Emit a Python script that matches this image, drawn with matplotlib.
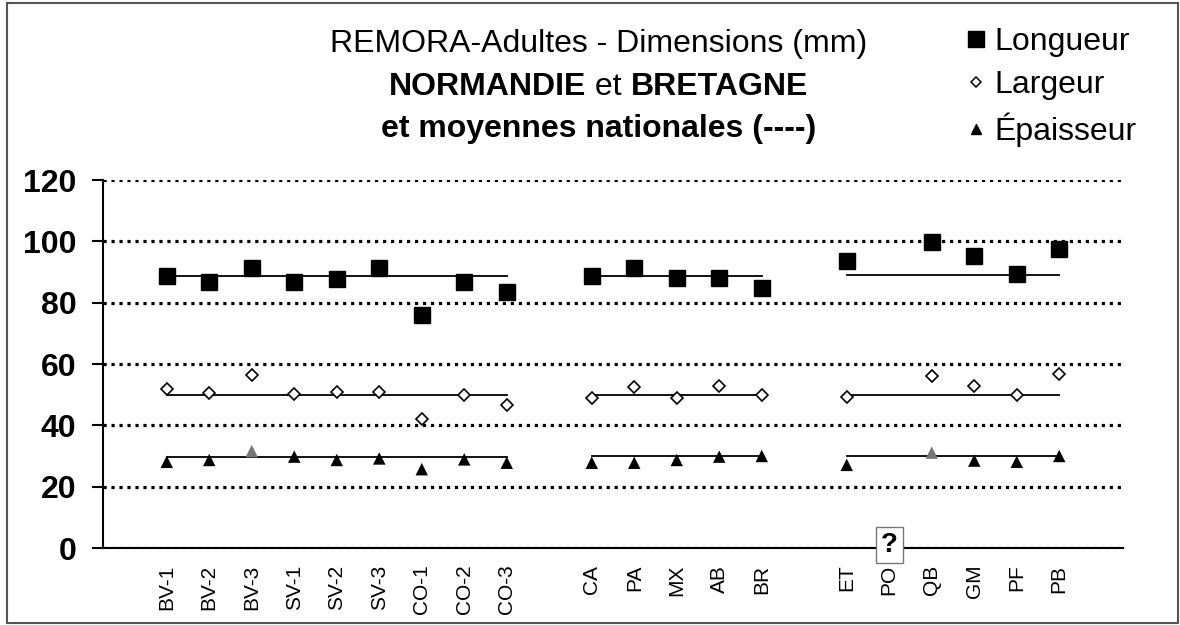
import numpy as np
import matplotlib
matplotlib.use('Agg')
import matplotlib.pyplot as plt
from matplotlib.lines import Line2D
from matplotlib.patches import Rectangle

plt.rcParams['font.family'] = ['Liberation Sans', 'DejaVu Sans']

# groupes de sites (séparés par une case vide sur l'axe)
groupe_normandie = ['BV-1', 'BV-2', 'BV-3', 'SV-1', 'SV-2', 'SV-3', 'CO-1', 'CO-2', 'CO-3']
groupe_bretagne = ['CA', 'PA', 'MX', 'AB', 'BR']
groupe_autres = ['ET', 'PO', 'QB', 'GM', 'PF', 'PB']
groupes = [groupe_normandie, groupe_bretagne, groupe_autres]

categories = [''] + groupe_normandie + [''] + groupe_bretagne + [''] + groupe_autres + ['']

nan = np.nan
longueur = [nan, 88.8, 86.6, 91.2, 86.8, 87.8, 91.2, 75.9, 86.8, 83.6, nan,
            88.7, 91.4, 88.1, 88.1, 84.9, nan,
            93.7, nan, 99.8, 95.3, 89.3, 97.4, nan]
largeur = [nan, 52.0, 50.4, 56.3, 50.2, 51.0, 51.0, 42.2, 49.9, 46.6, nan,
           48.8, 52.6, 48.8, 52.8, 49.8, nan,
           49.3, nan, 56.1, 52.8, 49.9, 56.6, nan]
epaisseur = [nan, 28.1, 28.7, 31.6, 29.8, 28.7, 29.2, 25.7, 28.9, 27.8, nan,
             27.8, 27.8, 28.7, 29.8, 30.0, nan,
             27.1, nan, 31.1, 28.5, 28.1, 30.0, nan]

# moyennes nationales (une valeur par groupe)
moy_longueur = [88.7, 88.8, 89.0]
moy_largeur = [49.8, 49.9, 50.0]
moy_epaisseur = [29.8, 29.9, 30.0]

triangles_gris = ['BV-3', 'QB']

x = np.arange(len(categories))

fig = plt.figure(figsize=(11.8, 6.25), dpi=100)
ax = fig.add_axes([103/1180, 1-548/625, 1020/1180, 368/625])

# lignes des moyennes nationales
for g, noms in enumerate(groupes):
    xs = [categories.index(n) for n in noms]
    for moy in (moy_longueur, moy_largeur, moy_epaisseur):
        ax.plot([xs[0], xs[-1]], [moy[g], moy[g]], color='black', lw=1.3, zorder=2)

ax.plot(x, longueur, ls='', marker='s', ms=12, color='black', zorder=3)
ax.plot(x, largeur, ls='', marker='D', ms=6, mfc='white', mec='black', mew=1.2, zorder=3)
couleurs = ['#777777' if c in triangles_gris else 'black' for c in categories]
ax.scatter(x, epaisseur, marker='^', s=80, c=couleurs, zorder=3, linewidths=0)

ax.set_xlim(-0.5, len(categories) - 0.5)
ax.set_ylim(0, 120)
ax.set_yticks(np.arange(0, 121, 20))
ax.set_xticks(x)
ax.set_xticklabels(categories, rotation=90, fontsize=15)
ax.tick_params(axis='x', length=0, pad=12)
ax.tick_params(axis='y', length=8, width=1.5, direction='out', labelsize=23, pad=11)
for t in ax.get_yticklabels():
    t.set_fontweight('bold')

ax.yaxis.grid(True, color='black', lw=2.3, ls=(0, (1, 1.5)))
ax.set_axisbelow(True)
for s in ('top', 'right'):
    ax.spines[s].set_visible(False)
ax.spines['left'].set_linewidth(1.5)
ax.spines['bottom'].set_linewidth(1.5)
ax.spines['bottom'].set_zorder(4)

# point d'interrogation pour PO
ax.text(categories.index('PO'), 1, '?', ha='center', va='center', fontsize=20,
        fontweight='bold', clip_on=False, zorder=5,
        bbox=dict(boxstyle='square,pad=0.18', fc='white', ec='#777777', lw=1))

# titre
fig.text(0.507, 1-44/625, 'REMORA-Adultes - Dimensions (mm)', ha='center', va='center', fontsize=23)
t1 = fig.text(389/1180, 1-87/625, 'NORMANDIE', ha='left', va='center', fontsize=23, fontweight='bold')
t2 = ax.annotate(' et ', xy=(1, 0), xycoords=t1, ha='left', va='bottom', fontsize=23,
                 annotation_clip=False)
ax.annotate('BRETAGNE', xy=(1, 0), xycoords=t2, ha='left', va='bottom', fontsize=23,
            fontweight='bold', annotation_clip=False)
fig.text(0.507, 1-129/625, 'et moyennes nationales (----)', ha='center', va='center',
         fontsize=23, fontweight='bold')

# légende
handles = [Line2D([], [], ls='', marker='s', ms=11, color='black'),
           Line2D([], [], ls='', marker='D', ms=5.5, mfc='white', mec='black', mew=1.1),
           Line2D([], [], ls='', marker='^', ms=7.5, color='black')]
fig.legend(handles, ['Longueur', 'Largeur', 'Épaisseur'], loc='upper left',
           bbox_to_anchor=(966/1180, 1-27/625), frameon=False, fontsize=23,
           handlelength=0.6, handletextpad=0.3, labelspacing=0.4,
           borderpad=0, borderaxespad=0)

# cadre
fig.patches.append(Rectangle((7/1180, 2/625), 1171/1180, 620/625, transform=fig.transFigure,
                             fill=False, ec='#555555', lw=1.5))

fig.savefig('out.png', dpi=100)
